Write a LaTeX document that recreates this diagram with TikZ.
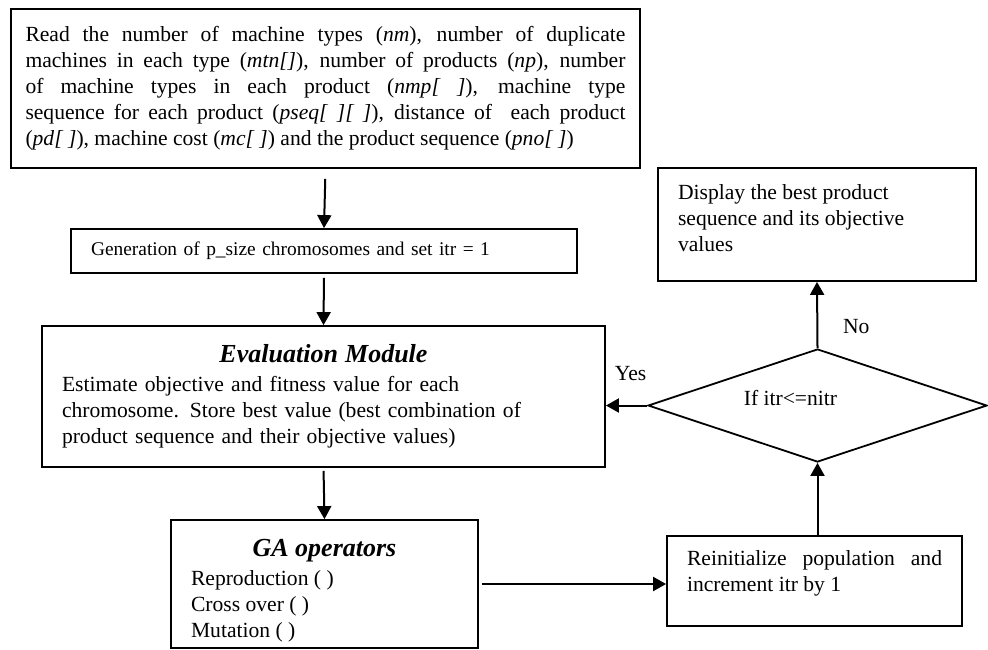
\documentclass[tikz,border=0pt]{standalone}
\usepackage{fontspec}
\setmainfont{Liberation Serif}
\usetikzlibrary{shapes.geometric,arrows.meta}
\begin{document}
\begin{tikzpicture}[x=0.5pt,y=-0.5pt,
  box/.style={draw,line width=0.9pt,rectangle,inner sep=0pt,font=\fontsize{10.8}{13}\selectfont},
  arr/.style={-{Triangle[length=6.5pt,width=7pt]},line width=1pt}]
			\def\titlefont{\fontsize{13}{15}\selectfont\bfseries\itshape}
			\long\def\toptext#1#2#3{\parbox[c][#1][t]{#2}{#3}}
			\useasboundingbox (0,0) rectangle (988,649);
			\node[box,minimum width=314.5pt,minimum height=79.5pt,text width=300pt,align=justify] (read) at (325.5,88.5)
			{Read the number of machine types (\textit{nm}), number of duplicate\linebreak
			machines in each type (\textit{mtn[]}), number of products (\textit{np}), number\linebreak
			of machine types in each product (\textit{nmp[ ]}), machine type\linebreak
			sequence for each product (\textit{pseq[ ][ ]}), distance of \ each product\linebreak
			(\textit{pd[ ]}), machine cost (\textit{mc[ ]}) and the product sequence (\textit{pno[ ]})};
			\node[box,minimum width=253pt,minimum height=22pt,text width=233pt,align=left,font=\fontsize{9.7}{11}\selectfont] (gen) at (324,251)
			{Generation of p\_size chromosomes and set itr = 1};
			\node[box,minimum width=281.5pt,minimum height=70.5pt,text width=261.5pt,align=left] (eval) at (323.5,396.5)
			{{\centering\titlefont Evaluation Module\par}\vspace{1.5pt}
			Estimate objective and fitness value for each\\
			chromosome. Store best value (best combination of\\
			product sequence and their objective values)};
			\node[box,minimum width=153.5pt,minimum height=64pt] (ga) at (324.5,584)
			{\toptext{44.5pt}{133.5pt}{{\centering\titlefont GA operators\par}\vspace{1.5pt}
			\raggedright Reproduction ( )\\ Cross over ( )\\ Mutation ( )}};
			\node[box,minimum width=147.5pt,minimum height=45pt] (reinit) at (814.5,581)
			{\toptext{31pt}{127.5pt}{Reinitialize population and\linebreak increment itr by 1}};
			\node[box,minimum width=159pt,minimum height=56.5pt] (display) at (817,224.5)
			{\toptext{40pt}{139pt}{\raggedright Display the best product\\ sequence and its objective\\ values}};
			\node[box,shape=diamond,minimum width=169.5pt,minimum height=56.5pt] (test) at (817.5,405.5)
			{\smash{\makebox[0pt]{If itr<=nitr\kern27pt}}};
			\draw[arr,shorten <=5pt] (read.south) -- (gen.north);
			\draw[arr,shorten <=2pt] (gen.south) -- (eval.north);
			\draw[arr,shorten <=1.5pt] (eval.south) -- (ga.north);
			\draw[arr,shorten <=1.5pt] (ga.east) -- (ga.east -| reinit.west);
			\draw[arr] (test.south |- reinit.north) -- (test.south);
			\draw[arr] (test.north) -- node[pos=0.32,right=9pt,font=\fontsize{10.8}{13}\selectfont]{No} (display.south);
			\draw[arr] (test.west) -- node[pos=0.4,above=8.5pt,font=\fontsize{10.8}{13}\selectfont]{Yes} (test.west -| eval.east);
		\end{tikzpicture}
\end{document}
